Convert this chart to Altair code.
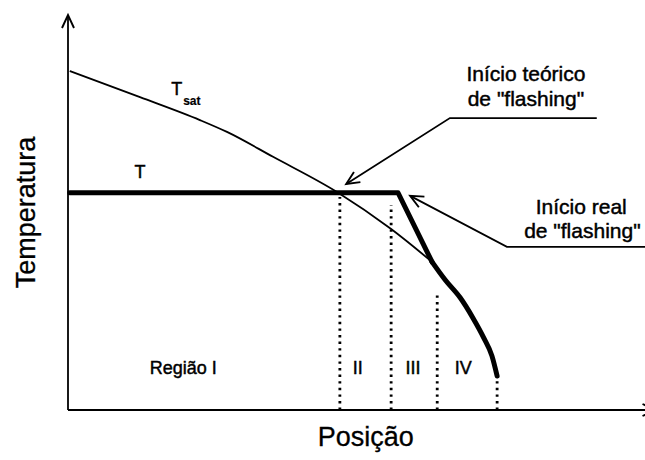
import math
import altair as alt
import pandas as pd

# Plot area in pixels; data use arbitrary units 0-100 on both axes
W, H = 576, 395
PX_X, PX_Y = W / 100.0, H / 100.0
FONT = "Liberation Sans"
INK = "black"

# Saturation temperature along the duct
tsat_pos = [0.3, 12.5, 22.9, 27.6, 35.6, 46.7, 56.1, 63.2]
tsat_temp = [85.8, 79.2, 73.4, 70.4, 64.1, 55.2, 45.8, 37.5]

# Liquid temperature: constant, then a sharp drop once flashing starts ...
t_pos = [0.3, 57.3, 63.2]
t_temp = [55.0, 55.0, 37.5]
# ... followed by the curved tail
tail_pos = [63.2, 65.5, 68.1, 70.3, 72.2, 73.6, 74.5]
tail_temp = [37.5, 32.9, 28.4, 23.3, 18.2, 13.7, 8.6]

# Region boundaries (dotted verticals) and their upper ends
bound_pos = [47.2, 56.1, 64.1, 74.5]
bound_top = [53.9, 51.9, 29.9, 7.6]

# Region names
region_names = ["Região I", "II", "III", "IV"]
region_pos = [20.0, 50.3, 59.9, 68.6]
region_temp = [10.4, 10.4, 10.4, 10.4]

# Callouts: text lines and leader polylines (last point = arrow tip)
note_lines = ["Início teórico", 'de "flashing"', "Início real", 'de "flashing"']
note_pos = [79.5, 79.5, 89.1, 89.3]
note_temp = [84.8, 78.5, 51.1, 45.1]
leader_a_pos = [91.8, 66.3, 48.3]
leader_a_temp = [73.9, 73.9, 57.2]
leader_b_pos = [102.0, 76.2, 59.4]
leader_b_temp = [41.3, 41.3, 54.2]

X_END = 102.0  # x axis runs slightly past the right edge

xs = alt.Scale(domain=[0, 100], nice=False, zero=False)
ys = alt.Scale(domain=[0, 100], nice=False, zero=False)


def X(f="x"):
    return alt.X(f"{f}:Q", scale=xs, axis=None)


def Y(f="y"):
    return alt.Y(f"{f}:Q", scale=ys, axis=None)


def heading(p0, p1):
    """Screen angle (degrees, clockwise from +x) of the segment p0 -> p1."""
    dx = (p1[0] - p0[0]) * PX_X
    dy = -(p1[1] - p0[1]) * PX_Y
    return math.degrees(math.atan2(dy, dx)) % 360


def label(df, size, align="center", weight="normal", stroke=0.45, **kw):
    return alt.Chart(df).mark_text(
        font=FONT, fontSize=size, fontWeight=weight, color=INK,
        stroke=INK, strokeWidth=stroke, baseline="middle", align=align, **kw
    ).encode(x=X(), y=Y(), text="t:N")


# Axes with arrow heads
axes_df = pd.DataFrame({"x": [0, 0], "y": [0, 0], "x2": [0, X_END], "y2": [100, 0]})
axes = alt.Chart(axes_df).mark_rule(color=INK, strokeWidth=1.8).encode(
    x=X(), y=Y(), x2="x2:Q", y2="y2:Q"
)

bounds_df = pd.DataFrame({"x": bound_pos, "y": [0] * 4, "y2": bound_top})
bounds = alt.Chart(bounds_df).mark_rule(
    color=INK, strokeWidth=2.8, strokeDash=[2.4, 4.2]
).encode(x=X(), y=Y(), y2="y2:Q")

tsat_df = pd.DataFrame({"x": tsat_pos, "y": tsat_temp})
tsat = alt.Chart(tsat_df).mark_line(
    color=INK, strokeWidth=1.8, interpolate="monotone"
).encode(x=X(), y=Y())

t_df = pd.DataFrame({"x": t_pos, "y": t_temp, "i": range(len(t_pos))})
t_line = alt.Chart(t_df).mark_line(
    color=INK, strokeWidth=5, strokeJoin="round", strokeCap="round"
).encode(x=X(), y=Y(), order="i:O")

tail_df = pd.DataFrame({"x": tail_pos, "y": tail_temp})
t_tail = alt.Chart(tail_df).mark_line(
    color=INK, strokeWidth=5, strokeCap="round", interpolate="monotone"
).encode(x=X(), y=Y())

lead_rows = []
for name, px_, py_ in (("a", leader_a_pos, leader_a_temp), ("b", leader_b_pos, leader_b_temp)):
    for i, (a, b) in enumerate(zip(px_, py_)):
        lead_rows.append({"g": name, "i": i, "x": a, "y": b})
leaders = alt.Chart(pd.DataFrame(lead_rows)).mark_line(
    color=INK, strokeWidth=1.8
).encode(x=X(), y=Y(), detail="g:N", order="i:O")

# Open chevron heads (tip at the symbol origin, pointing along +x)
heads_df = pd.DataFrame({
    "x": [0, X_END, leader_a_pos[-1], leader_b_pos[-1]],
    "y": [100, 0, leader_a_temp[-1], leader_b_temp[-1]],
    "ang": [
        heading((0, 0), (0, 100)),
        heading((0, 0), (X_END, 0)),
        heading((leader_a_pos[1], leader_a_temp[1]), (leader_a_pos[2], leader_a_temp[2])),
        heading((leader_b_pos[1], leader_b_temp[1]), (leader_b_pos[2], leader_b_temp[2])),
    ],
})
heads = alt.Chart(heads_df).mark_point(
    shape="M -1.3 -0.6 L 0 0 L -1.3 0.6",
    filled=False, size=400, color=INK, strokeWidth=1.9, opacity=1,
).encode(x=X(), y=Y(), angle=alt.Angle("ang:Q", scale=None))

regions = label(pd.DataFrame({"x": region_pos, "y": region_temp, "t": region_names}), 18)
notes = label(pd.DataFrame({"x": note_pos, "y": note_temp, "t": note_lines}), 21)
curve_labels = label(pd.DataFrame({"x": [12.5, 18.9], "y": [60.0, 81.0], "t": ["T", "T"]}), 18)
sub_label = label(pd.DataFrame({"x": [20.0], "y": [78.3], "t": ["sat"]}), 12,
                  align="left", weight="bold", stroke=0.2)
y_title = label(pd.DataFrame({"x": [-7.1], "y": [50.0], "t": ["Temperatura"]}), 27,
                stroke=0.3, angle=270)
x_title = label(pd.DataFrame({"x": [51.7], "y": [-7.0], "t": ["Posição"]}), 27, stroke=0.3)

chart = alt.layer(
    bounds, tsat, t_line, t_tail, axes, leaders, heads,
    regions, notes, curve_labels, sub_label, y_title, x_title,
).properties(
    width=W, height=H,
    autosize=alt.AutoSizeParams(type="none"),
    padding={"left": 68, "top": 15, "right": 1, "bottom": 50},
    background="white",
).configure_view(stroke=None)

chart.save("out.html", embed_options={"renderer": "svg", "actions": False})
